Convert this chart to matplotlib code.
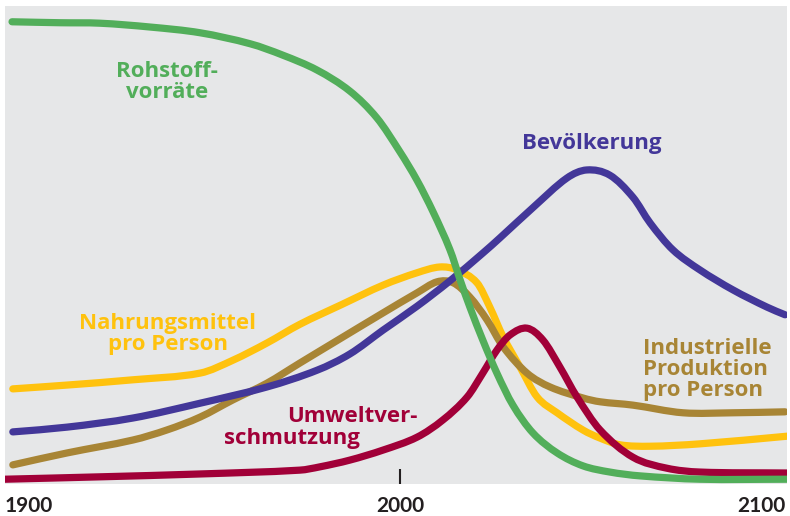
import matplotlib
matplotlib.use("Agg")
import matplotlib.pyplot as plt
from matplotlib.path import Path
from matplotlib.patches import PathPatch

# ---- data (relative level, 0-100) ----
rohstoff_years = [1900.8, 1913.1, 1923.3, 1936.1, 1948.9, 1961.7, 1970.1, 1978.8, 1987.2, 1994.1,
                  2000.0, 2004.4, 2008.5, 2012.8, 2015.4, 2017.9, 2021.2, 2024.8, 2028.9, 2034.0,
                  2040.2, 2046.8, 2053.7, 2061.4, 2076.7, 2099.0]
rohstoff_vals = [96.7, 96.5, 96.4, 95.6, 94.4, 92.1, 89.7, 86.6, 82.2, 76.6,
                 69.5, 63.5, 56.9, 49.0, 42.7, 37.0, 30.1, 23.2, 16.5, 10.7,
                 6.5, 3.8, 2.5, 1.7, 1.0, 1.0]

bev_years = [1901.0, 1914.9, 1931.7, 1948.9, 1966.0, 1978.8, 1987.2, 1995.7, 2004.4, 2012.8,
             2021.2, 2025.6, 2034.0, 2042.7, 2047.8, 2053.7, 2059.6, 2064.0, 2069.8, 2076.7,
             2085.2, 2093.9, 2098.5]
bev_vals = [10.9, 11.9, 13.8, 16.9, 20.3, 23.8, 27.2, 32.2, 37.2, 42.5,
            48.3, 51.5, 57.8, 64.0, 65.7, 64.6, 60.0, 54.6, 49.0, 44.8,
            40.6, 37.0, 35.4]

nahrung_years = [1901.0, 1914.9, 1931.7, 1948.9, 1957.3, 1966.0, 1974.4, 1985.0, 1995.7,
                 2004.4, 2010.2, 2014.6, 2019.7, 2023.0, 2026.4, 2030.7, 2035.1, 2040.2, 2046.8,
                 2051.2, 2056.3, 2063.9, 2076.7, 2099.0]
nahrung_vals = [19.9, 20.7, 21.8, 23.2, 25.9, 29.5, 33.4, 37.5, 41.6,
                44.2, 45.4, 44.8, 42.1, 37.0, 30.8, 24.5, 18.2, 14.9, 11.3,
                9.6, 8.2, 7.9, 8.4, 10.0]

industrie_years = [1901.0, 1914.9, 1931.7, 1940.4, 1948.9, 1957.3, 1966.0, 1974.4, 1982.9,
                   1995.7, 2004.4, 2009.5, 2013.6, 2017.9, 2022.3, 2026.4, 2032.5, 2038.4, 2046.8,
                   2051.2, 2059.6, 2072.4, 2085.2, 2098.5]
industrie_vals = [4.0, 6.5, 9.2, 11.3, 14.0, 17.6, 21.1, 25.3, 29.5,
                  35.8, 40.0, 42.3, 42.1, 39.1, 34.3, 28.7, 23.2, 20.3, 18.0,
                  17.2, 16.5, 14.9, 14.9, 15.1]

umwelt_years = [1899.0, 1923.3, 1948.9, 1974.4, 1979.6, 1987.2, 1995.7, 2004.4, 2011.0, 2017.2,
                2021.2, 2024.8, 2028.2, 2032.5, 2036.6, 2040.9, 2045.3, 2051.2, 2059.6, 2068.3,
                2076.7, 2099.0]
umwelt_vals = [1.0, 1.5, 2.1, 2.9, 3.6, 5.0, 7.1, 9.8, 13.4, 18.2,
               23.2, 28.0, 31.2, 32.6, 30.1, 24.5, 18.2, 11.3, 5.6, 3.3,
               2.5, 2.3]

tick_years = [1900, 2000, 2100]
tick_labels = ["1900", "2000", "2100"]

# ---- style ----
GREEN = "#52ae5a"
PURPLE = "#433799"
YELLOW = "#ffc20e"
BROWN = "#a88535"
RED = "#a10038"
BG = "#e6e7e8"
FONT = "Open Sans"
TICKFONT = "Lato"


def smooth_path(xs, ys):
    """Cubic Hermite (as Bezier segments) through the given points."""
    n = len(xs)
    slopes = []
    for i in range(n):
        if i == 0:
            m = (ys[1] - ys[0]) / (xs[1] - xs[0])
        elif i == n - 1:
            m = (ys[-1] - ys[-2]) / (xs[-1] - xs[-2])
        else:
            m = (ys[i + 1] - ys[i - 1]) / (xs[i + 1] - xs[i - 1])
        slopes.append(m)
    verts = [(xs[0], ys[0])]
    codes = [Path.MOVETO]
    for i in range(n - 1):
        dx = xs[i + 1] - xs[i]
        verts += [(xs[i] + dx / 3, ys[i] + slopes[i] * dx / 3),
                  (xs[i + 1] - dx / 3, ys[i + 1] - slopes[i + 1] * dx / 3),
                  (xs[i + 1], ys[i + 1])]
        codes += [Path.CURVE4] * 3
    return Path(verts, codes)


fig = plt.figure(figsize=(7.9, 5.16), dpi=100)
ax = fig.add_axes([5 / 790, 1 - 484 / 516, 782 / 790, 478 / 516])
ax.set_facecolor(BG)
ax.set_xlim(1899, 2099)
ax.set_ylim(0, 100)
for s in ax.spines.values():
    s.set_visible(False)
ax.set_yticks([])

lw = 5.2
series = [
    (nahrung_years, nahrung_vals, YELLOW, 2),
    (industrie_years, industrie_vals, BROWN, 3),
    (bev_years, bev_vals, PURPLE, 4),
    (umwelt_years, umwelt_vals, RED, 5),
    (rohstoff_years, rohstoff_vals, GREEN, 6),
]
for xs, ys, col, z in series:
    patch = PathPatch(smooth_path(xs, ys), facecolor="none", edgecolor=col, lw=lw,
                      capstyle="round", joinstyle="round", zorder=z,
                      transform=ax.transData)
    ax.add_patch(patch)

# tick mark at 2000 only (inside)
ax.set_xticks([tick_years[1]], labels=[""])
ax.tick_params(axis="x", direction="in", length=11, width=1.5, color="#231f20", pad=0)

# tick labels
lab_kw = dict(fontsize=15, fontweight="bold", color="#231f20", family=TICKFONT,
              va="center", transform=ax.get_xaxis_transform(), clip_on=False)
ax.text(1899, -0.045, tick_labels[0], ha="left", **lab_kw)
ax.text(tick_years[1], -0.045, tick_labels[1], ha="center", **lab_kw)
ax.text(2098.5, -0.045, tick_labels[2], ha="right", **lab_kw)

# series labels
tkw = dict(fontsize=16, fontweight="bold", family=FONT, linespacing=1.0)
ax.text(1940.4, 84.1, "Rohstoff-\nvorräte", color=GREEN, ha="center", va="center",
        multialignment="center", **tkw)
ax.text(2049.1, 71.3, "Bevölkerung", color=PURPLE, ha="center", va="center", **tkw)
ax.text(1940.6, 31.4, "Nahrungsmittel\npro Person", color=YELLOW, ha="center", va="center",
        multialignment="center", **tkw)
ax.text(2062.2, 24.0, "Industrielle\nProduktion\npro Person", color=BROWN, ha="left",
        va="center", multialignment="left", **tkw)
ax.text(1987.7, 14.2, "Umweltver-", color=RED, ha="center", va="center", **tkw)
ax.text(1972.3, 9.6, "schmutzung", color=RED, ha="center", va="center", **tkw)

fig.savefig("out.png", dpi=100, facecolor="white")
